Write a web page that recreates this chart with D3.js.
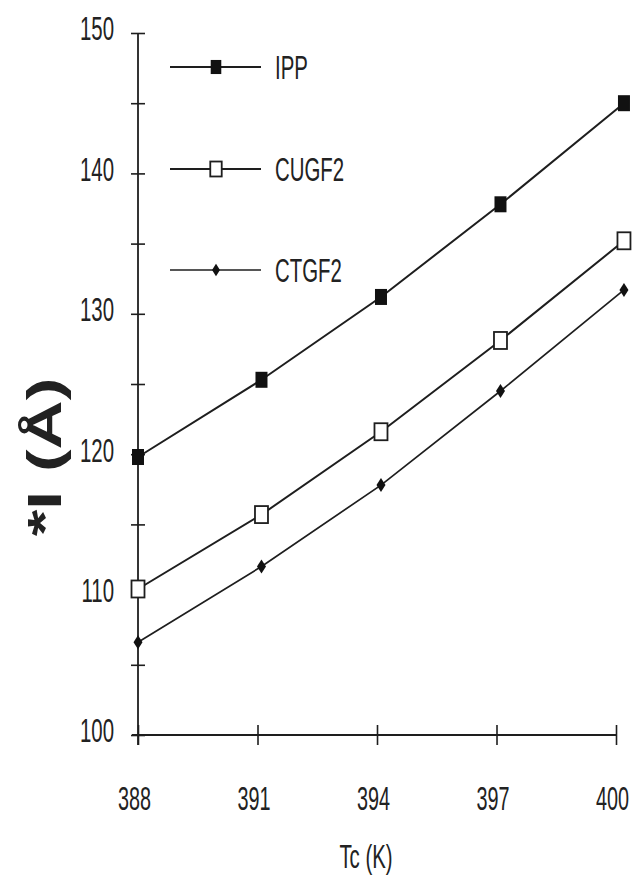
<!DOCTYPE html>
<html>
<head>
<meta charset="utf-8">
<script src="https://cdn.jsdelivr.net/npm/d3@7"></script>
<style>
  body { margin: 0; background: #fff; }
  svg text { font-family: "Liberation Sans", Arial, sans-serif; fill: #222; }
</style>
</head>
<body>
<div id="chart"></div>
<script>
// data
var tcValues = [388.0, 391.1, 394.1, 397.1, 400.2];
var ippValues = [119.8, 125.3, 131.2, 137.8, 145.0];
var cugf2Values = [110.4, 115.7, 121.6, 128.1, 135.2];
var ctgf2Values = [106.6, 112.0, 117.8, 124.5, 131.7];
var seriesNames = ["IPP", "CUGF2", "CTGF2"];
var xTicks = [388, 391, 394, 397, 400];
var yTicks = [100, 105, 110, 115, 120, 125, 130, 135, 140, 145, 150];

var width = 632, height = 879;
var SQ = 0.6; // the scan is squeezed sideways, so is the text

var svg = d3.select("#chart").append("svg")
    .attr("width", width)
    .attr("height", height);

var x = d3.scaleLinear().domain([388, 400]).range([138, 616]);
var y = d3.scaleLinear().domain([100, 150]).range([735, 33]);

var ink = "#1e1e1e";

// y axis
var yAxis = d3.axisLeft(y)
    .tickValues(yTicks)
    .tickSizeInner(7)
    .tickSizeOuter(0)
    .tickFormat(function(d) { return d % 10 === 0 ? d : ""; });

var gy = svg.append("g")
    .attr("class", "y-axis")
    .attr("transform", "translate(" + x(388) + ",0)")
    .call(yAxis);
gy.select(".domain").remove();
gy.selectAll(".tick line").attr("x1", 7).attr("stroke", ink).attr("stroke-width", 1.6);
gy.selectAll(".tick text")
    .attr("font-size", 34)
    .attr("font-family", null)
    .attr("x", -24 / SQ)
    .attr("y", -5)
    .attr("dy", "0.35em")
    .attr("transform", "scale(" + SQ + ",1)");

// x axis
var xAxis = d3.axisBottom(x)
    .tickValues(xTicks)
    .tickSizeInner(10)
    .tickSizeOuter(0)
    .tickFormat(d3.format("d"));

var gx = svg.append("g")
    .attr("class", "x-axis")
    .attr("transform", "translate(0," + y(100) + ")")
    .call(xAxis);
gx.select(".domain").remove();
gx.selectAll(".tick line").attr("y1", -10).attr("stroke", ink).attr("stroke-width", 1.6);
gx.selectAll(".tick text")
    .attr("font-size", 33)
    .attr("font-family", null)
    .attr("x", -4 / SQ)
    .attr("y", 75)
    .attr("dy", 0)
    .attr("transform", "scale(" + SQ + ",1)");

// axis lines, slightly overhanging like the original
svg.append("line")
    .attr("x1", x(388)).attr("x2", x(388))
    .attr("y1", y(150)).attr("y2", y(100) + 10)
    .attr("stroke", ink).attr("stroke-width", 1.8);
svg.append("line")
    .attr("x1", x(388) - 6).attr("x2", x(400))
    .attr("y1", y(100)).attr("y2", y(100))
    .attr("stroke", ink).attr("stroke-width", 1.8);

// axis titles
svg.append("g")
    .attr("transform", "translate(366,868) scale(" + SQ + ",1)")
    .append("text")
    .attr("text-anchor", "middle")
    .attr("font-size", 34)
    .text("Tc (K)");

svg.append("g")
    .attr("transform", "translate(61,457) scale(0.7,1) rotate(-90)")
    .append("text")
    .attr("text-anchor", "middle")
    .attr("font-size", 68)
    .attr("font-weight", "bold")
    .attr("fill", "#111")
    .text("*I (Å)");

// series
var series = [
    { name: seriesNames[0], values: ippValues, marker: "filled", lw: 2 },
    { name: seriesNames[1], values: cugf2Values, marker: "hollow", lw: 2 },
    { name: seriesNames[2], values: ctgf2Values, marker: "diamond", lw: 1.7 }
];

var line = d3.line()
    .x(function(d) { return x(d.tc); })
    .y(function(d) { return y(d.v); });

function drawMarker(g, type, cx, cy, small) {
    var k = small ? 0.88 : 1;
    if (type === "filled") {
        g.append("rect")
            .attr("x", cx - 6 * k).attr("y", cy - 8 * k)
            .attr("width", 12 * k).attr("height", 16 * k)
            .attr("fill", "#111");
    } else if (type === "hollow") {
        g.append("rect")
            .attr("x", cx - 6.5 * k).attr("y", cy - 8.5 * k)
            .attr("width", 13 * k).attr("height", 17 * k)
            .attr("fill", "#fff").attr("stroke", ink).attr("stroke-width", 1.8);
    } else {
        g.append("path")
            .attr("d", "M" + cx + "," + (cy - 7 * k) + "L" + (cx + 4.5 * k) + "," + cy +
                "L" + cx + "," + (cy + 7 * k) + "L" + (cx - 4.5 * k) + "," + cy + "Z")
            .attr("fill", "#111");
    }
}

series.forEach(function(s) {
    var pts = s.values.map(function(v, i) { return { tc: tcValues[i], v: v }; });
    var g = svg.append("g").attr("class", "series");
    g.append("path")
        .datum(pts)
        .attr("d", line)
        .attr("fill", "none")
        .attr("stroke", ink)
        .attr("stroke-width", s.lw);
    pts.forEach(function(p) {
        drawMarker(g, s.marker, x(p.tc), y(p.v), false);
    });
});

// legend
var legendY = [67, 169, 270];
series.forEach(function(s, i) {
    var g = svg.append("g").attr("class", "legend");
    g.append("line")
        .attr("x1", 170).attr("x2", 261)
        .attr("y1", legendY[i]).attr("y2", legendY[i])
        .attr("stroke", ink)
        .attr("stroke-width", i === 2 ? 1.3 : 1.8);
    drawMarker(g, s.marker, 216, legendY[i], true);
    g.append("g")
        .attr("transform", "translate(275," + (legendY[i] + 12) + ") scale(" + SQ + ",1)")
        .append("text")
        .attr("font-size", 34)
        .text(s.name);
});
</script>
</body>
</html>
